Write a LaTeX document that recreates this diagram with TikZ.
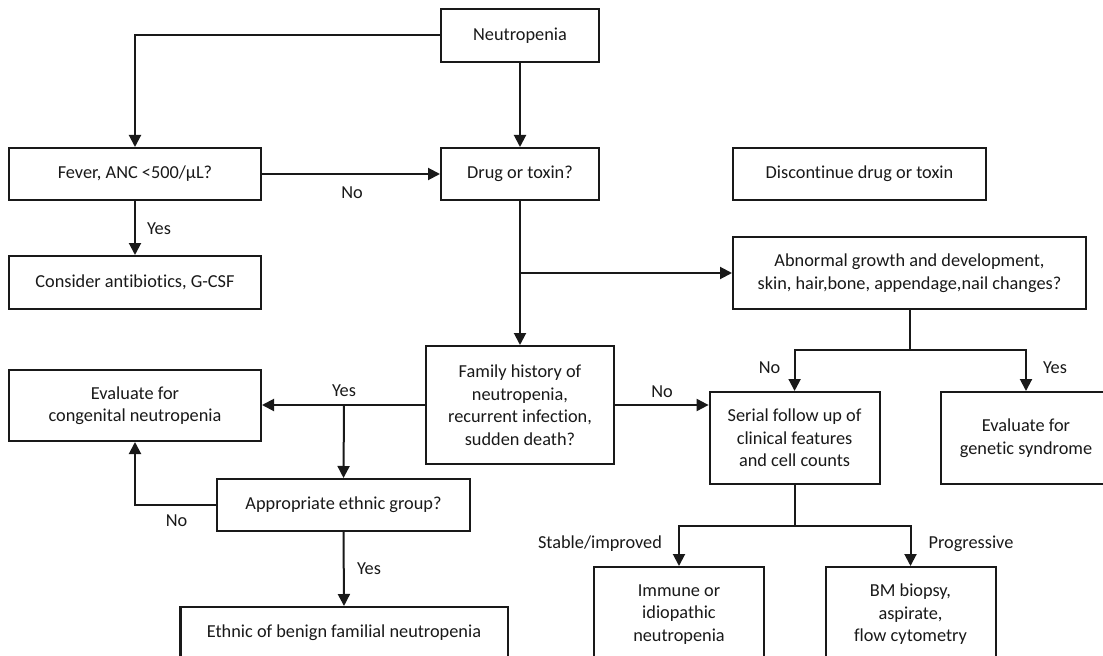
\documentclass[tikz,border=0pt]{standalone}
\usepackage{fontspec}
\setmainfont{Carlito}[Ligatures=NoCommon]
\usetikzlibrary{arrows.meta}
\begin{document}
\begin{tikzpicture}[x=1bp,y=-1bp,
  txt/.style={font=\fontsize{18.3bp}{22.5bp}\selectfont, text=black!90, inner sep=0pt},
  box/.style={txt, draw=black!90, line width=2bp, align=center},
  lbl/.style={txt, anchor=center},
  conn/.style={line width=2bp, draw=black!90},
  arr/.style={conn, -{Triangle[length=12bp,width=12bp]}},
]
\clip (0,0) rectangle (1103,656);
\fill[white] (0,0) rectangle (1103,656);

% boxes
\node[box, minimum width=158bp, minimum height=53bp] (neut) at (520,35.5) {Neutropenia};
\node[box, minimum width=252bp, minimum height=52bp] (fever) at (135,174) {Fever, ANC <500/µL?};
\node[box, minimum width=158bp, minimum height=52bp] (drug) at (520,174) {Drug or toxin?};
\node[box, minimum width=253bp, minimum height=52bp] (disc) at (859.5,174) {Discontinue drug or toxin};
\node[box, minimum width=252bp, minimum height=53bp] (cons) at (135,282.5) {Consider antibiotics, G-CSF};
\node[box, minimum width=353bp, minimum height=72bp] (abn) at (909.5,273) {Abnormal growth and development,\\skin, hair,bone, appendage,nail changes?};
\node[box, minimum width=188bp, minimum height=118bp] (fam) at (520,405) {Family history of\\neutropenia,\\recurrent infection,\\sudden death?};
\node[box, minimum width=252bp, minimum height=71bp] (cong) at (135,405.5) {Evaluate for\\congenital neutropenia};
\node[box, minimum width=170bp, minimum height=92bp] (serial) at (794.6,438) {Serial follow up of\\clinical features\\and cell counts};
\node[box, minimum width=170bp, minimum height=92bp] (gen) at (1026,438) {Evaluate for\\genetic syndrome};
\node[box, minimum width=253bp, minimum height=52bp] (appr) at (343.5,505) {Appropriate ethnic group?};
\node[box, minimum width=327bp, minimum height=52bp] (benign) at (344,633) {Ethnic of benign familial neutropenia};
\node[box, minimum width=170bp, minimum height=95bp] (immune) at (679,614.5) {Immune or\\idiopathic\\neutropenia};
\node[box, minimum width=170bp, minimum height=95bp] (bm) at (910.5,614.5) {BM biopsy,\\aspirate,\\flow cytometry};

% junction coordinates
\coordinate (jdrug) at (520,273);
\coordinate (jabn) at (909.5,350);
\coordinate (jfam) at (344,405);
\coordinate (jser) at (794.6,526);

% connectors
\draw[arr] (neut.west) -| (fever.north);
\draw[arr] (neut.south) -- (drug.north);
\draw[arr] (fever.east) -- (drug.west);
\draw[arr] (fever.south) -- (cons.north);
\draw[arr] (drug.south) -- (fam.north);
\draw[arr] (jdrug) -- (abn.west);
\draw[conn] (abn.south) -- (jabn);
\draw[arr] (jabn) -| (serial.north);
\draw[arr] (jabn) -| (gen.north);
\draw[arr] (fam.east) -- (serial.west |- fam.east);
\draw[arr] (fam.west) -- (cong.east |- fam.west);
\draw[arr] (jfam) -- (appr.north);
\draw[arr] (appr.west) -| (cong.south);
\draw[arr] (appr.south) -- (benign.north);
\draw[conn] (serial.south) -- (jser);
\draw[arr] (jser) -| (immune.north);
\draw[arr] (jser) -| (bm.north);

% labels
\node[lbl] (lno1) at (352,193) {No};
\node[lbl] (lyes1) at (159,229) {Yes};
\node[lbl] (lno2) at (769.5,368) {No};
\node[lbl] (lyes2) at (1055,368) {Yes};
\node[lbl] (lno3) at (662,392) {No};
\node[lbl] (lyes3) at (344,391) {Yes};
\node[lbl] (lno4) at (176.6,521) {No};
\node[lbl] (lyes4) at (369,569) {Yes};
\node[lbl] (lstab) at (600,544) {Stable/improved};
\node[lbl] (lprog) at (971,544) {Progressive};
\end{tikzpicture}
\end{document}
